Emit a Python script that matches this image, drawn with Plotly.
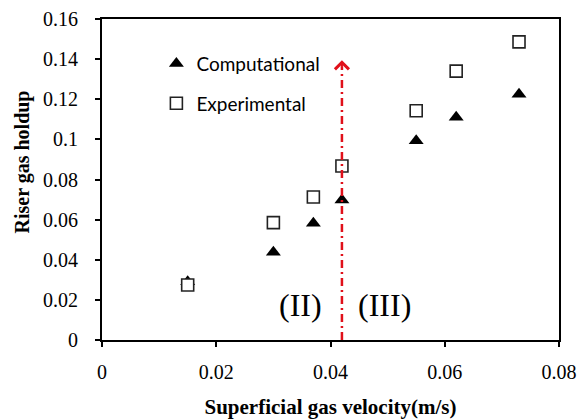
import plotly.graph_objects as go

# Superficial gas velocity (m/s) and riser gas holdup
velocity = [0.015, 0.030, 0.037, 0.042, 0.055, 0.062, 0.073]
holdup_computational = [0.029, 0.0437, 0.0582, 0.0698, 0.0993, 0.111, 0.1225]
holdup_experimental = [0.0274, 0.0585, 0.0713, 0.0867, 0.1143, 0.134, 0.1486]

# Regime transition marker
transition_velocity = 0.042
transition_arrow_top = 0.1395
regime_labels = ["(II)", "(III)"]
regime_label_x = [0.0347, 0.0495]
regime_label_y = [0.0175, 0.0175]

x_ticks = [0, 0.02, 0.04, 0.06, 0.08]
y_ticks = [0, 0.02, 0.04, 0.06, 0.08, 0.1, 0.12, 0.14, 0.16]

serif = "Liberation Serif, Times New Roman, serif"
sans = "Lato, Carlito, Calibri, sans-serif"
red = "#e0101a"

fig = go.Figure()

fig.add_trace(go.Scatter(
    x=velocity, y=holdup_computational, mode="markers",
    name="Computational", legendgroup="comp",
    marker=dict(symbol="triangle-up", size=13, color="black",
                line=dict(width=0)),
))
fig.add_trace(go.Scatter(
    x=velocity, y=holdup_experimental, mode="markers",
    name="Experimental", legendgroup="exp",
    marker=dict(symbol="square", size=12, color="white",
                line=dict(width=1.6, color="#222222")),
))

# Dash-dot transition line
fig.add_trace(go.Scatter(
    x=[transition_velocity, transition_velocity],
    y=[0, transition_arrow_top - 0.003],
    mode="lines", showlegend=False, hoverinfo="skip",
    line=dict(color=red, width=2.5, dash="8px,4px,2px,4px"),
))

# Open chevron arrowhead at the top of the transition line
fig.add_annotation(
    x=transition_velocity, y=transition_arrow_top,
    ax=transition_velocity, ay=transition_arrow_top - 0.004,
    xref="x", yref="y", axref="x", ayref="y",
    showarrow=True, arrowhead=4, arrowsize=1.35, arrowwidth=2,
    arrowcolor=red, standoff=0, startstandoff=0, text="",
)

for text, lx, ly in zip(regime_labels, regime_label_x, regime_label_y):
    fig.add_annotation(x=lx, y=ly, text=text, showarrow=False,
                       font=dict(family=serif, size=32, color="black"))

# Vertical axis title, set a little above the plot's centre
fig.add_annotation(
    x=-0.175, y=0.553, xref="paper", yref="paper",
    xanchor="center", yanchor="middle",
    text="<b>Riser gas holdup</b>", textangle=-90, showarrow=False,
    font=dict(family=serif, size=20, color="black"),
)

fig.update_layout(
    width=579, height=419,
    margin=dict(l=102, r=20, t=19, b=79),
    paper_bgcolor="white", plot_bgcolor="white",
    showlegend=True,
    legend=dict(
        x=0.119, y=0.92, xanchor="left", yanchor="top",
        bgcolor="rgba(0,0,0,0)", borderwidth=0,
        font=dict(family=sans, size=19, color="black"),
        traceorder="grouped", tracegroupgap=12,
        itemwidth=30,
    ),
    xaxis=dict(
        range=[0, 0.08], tickvals=x_ticks,
        ticktext=["0", "0.02", "0.04", "0.06", "0.08"],
        showgrid=False, zeroline=False, automargin=False,
        showline=True, linecolor="black", linewidth=2, mirror=True,
        ticks="outside", ticklen=5, tickwidth=1.5, tickcolor="black",
        ticklabelstandoff=8,
        tickfont=dict(family=serif, size=20, color="black"),
        title=dict(text="<b>Superficial gas velocity(m/s)</b>",
                   font=dict(family=serif, size=21, color="black"),
                   standoff=24),
    ),
    yaxis=dict(
        range=[0, 0.16], tickvals=y_ticks,
        ticktext=["0", "0.02", "0.04", "0.06", "0.08", "0.1", "0.12", "0.14", "0.16"],
        showgrid=False, zeroline=False, automargin=False,
        showline=True, linecolor="black", linewidth=2, mirror=True,
        ticks="outside", ticklen=5, tickwidth=1.5, tickcolor="black",
        ticklabelstandoff=13,
        tickfont=dict(family=serif, size=20, color="black"),
    ),
)

fig.write_html("out.html")
